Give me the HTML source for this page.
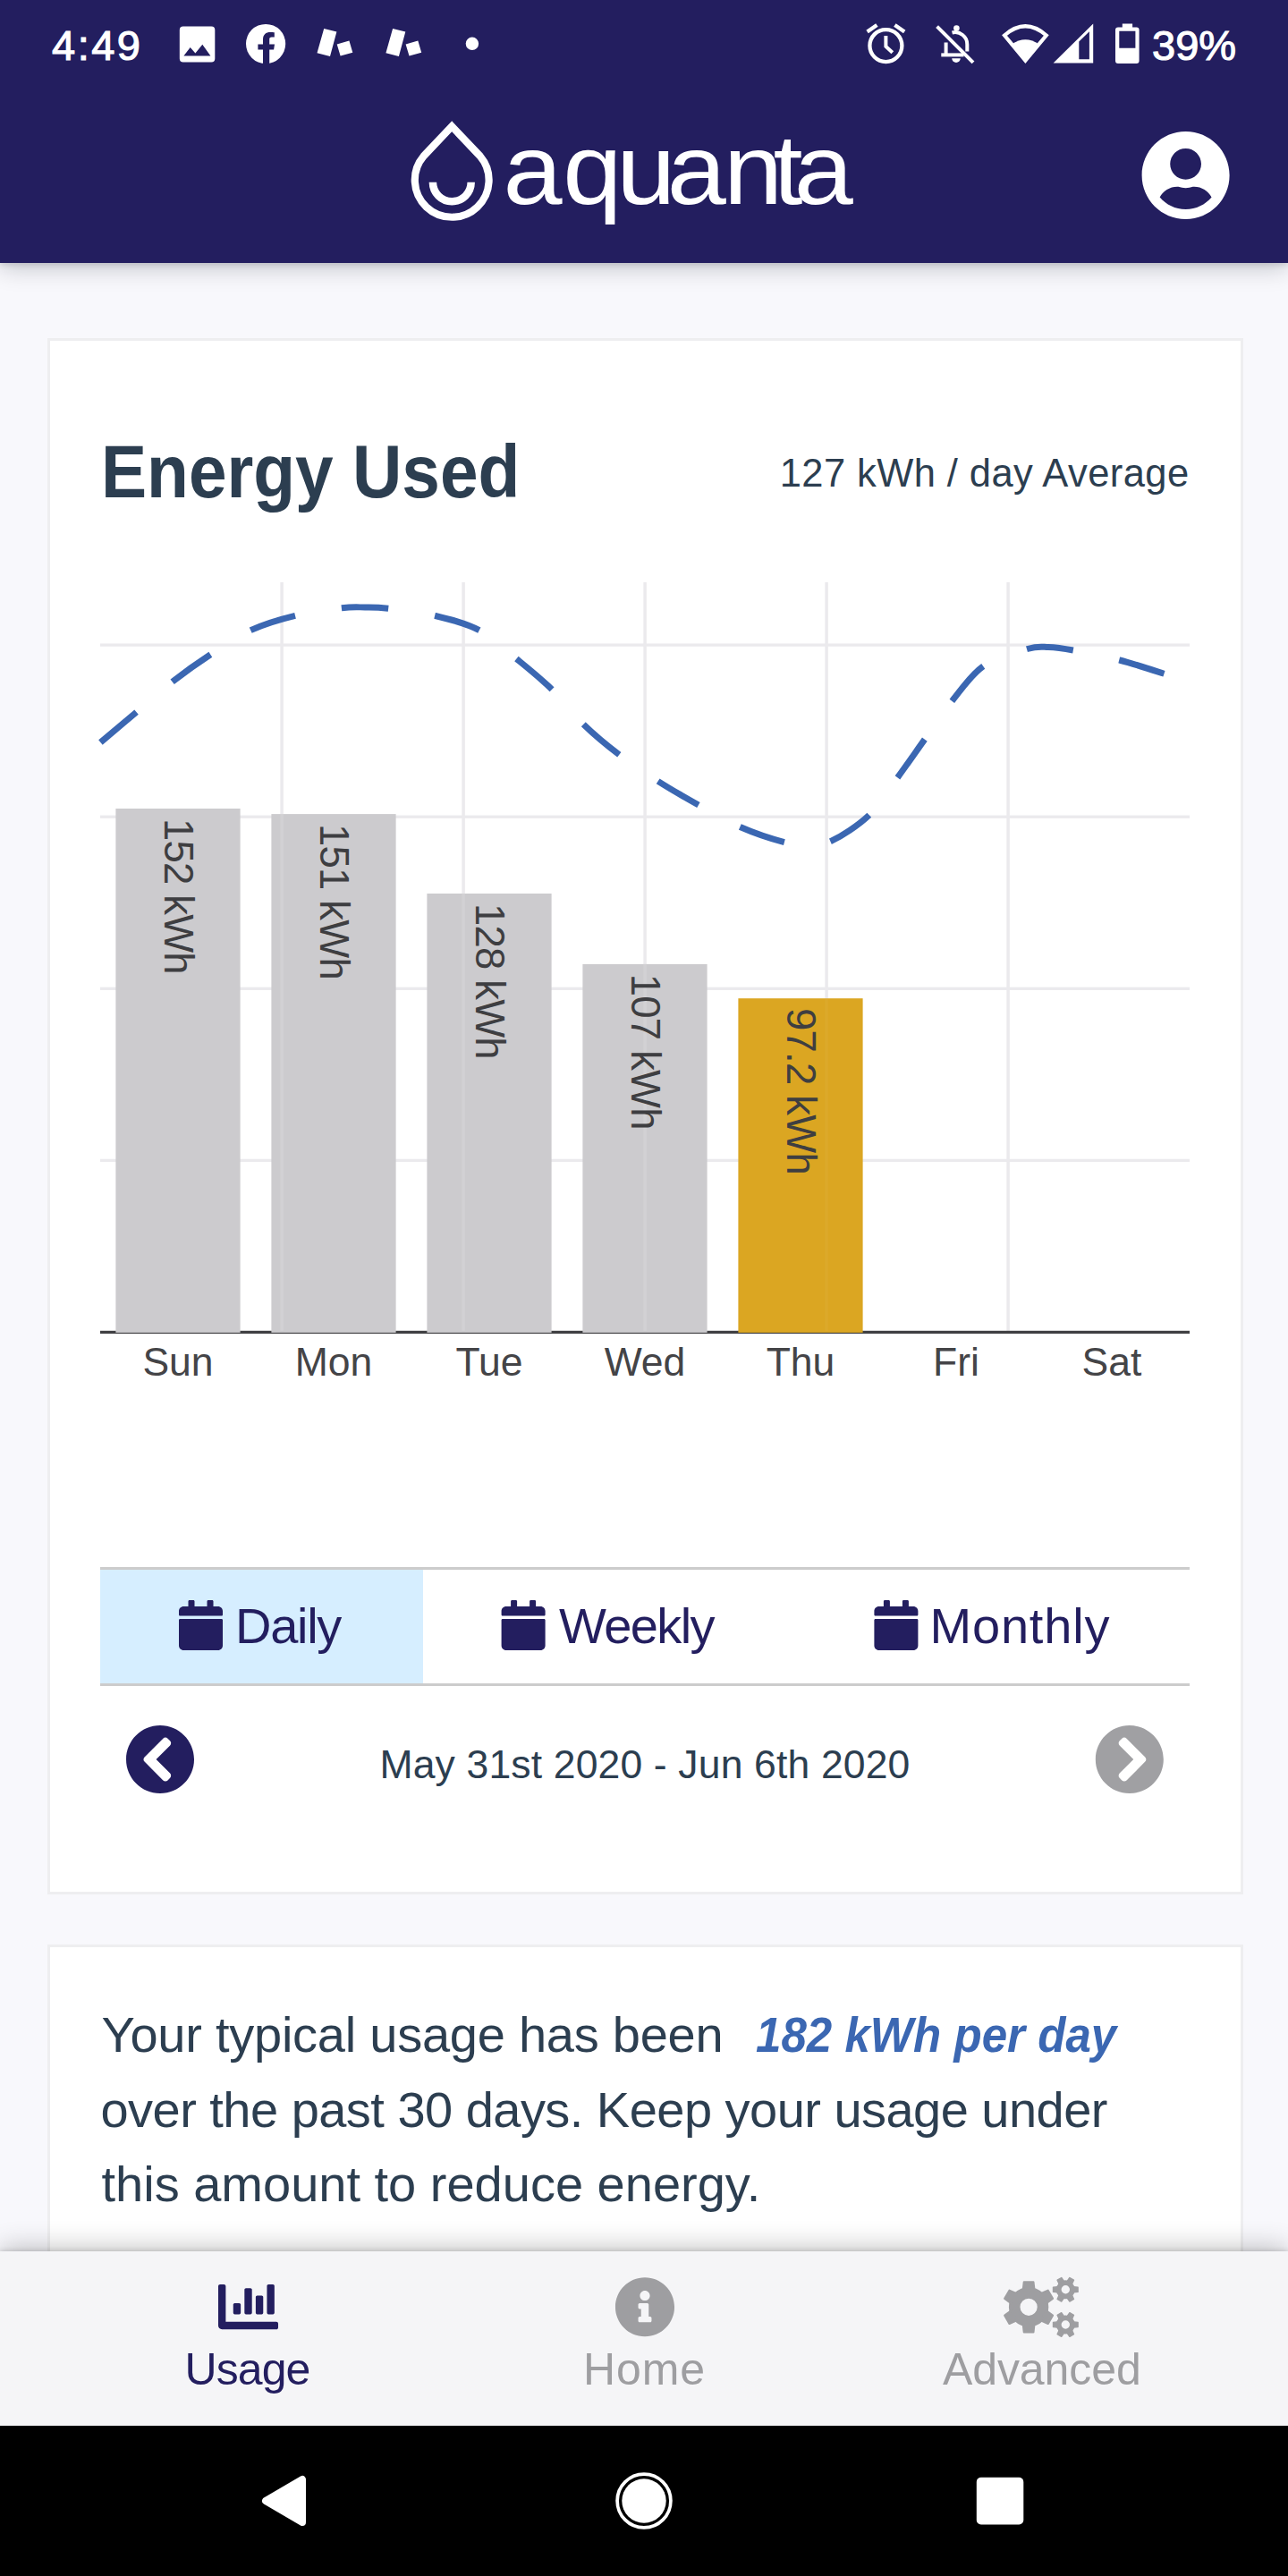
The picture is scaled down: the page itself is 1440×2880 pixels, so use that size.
<!DOCTYPE html><html lang="en"><head><meta charset="utf-8"><title>Aquanta - Energy Used</title><style>
*{margin:0;padding:0;box-sizing:border-box}
html,body{width:1440px;height:2880px;overflow:hidden}
body{position:relative;background:#f8f8fc;font-family:"Liberation Sans",sans-serif;color:#2c3e50}
.abs{position:absolute}
.t{position:absolute;white-space:nowrap;line-height:1}
svg{position:absolute;left:0;top:0;overflow:visible}
#header{position:absolute;left:0;top:0;width:1440px;height:294px;background:#231e5f;box-shadow:0 4px 26px rgba(10,15,30,.24),0 1px 7px rgba(10,15,30,.16)}
.card{position:absolute;left:53px;width:1337px;background:#fff;border:3.5px solid #eeeef0}
#card1{top:378.3px;height:1739.4px}
#card2{top:2174px;height:420px}
#tabbar{position:absolute;left:0;top:2517px;width:1440px;height:195px;background:#f5f5f7;box-shadow:0 -4px 28px rgba(0,0,0,.24),0 -1px 5px rgba(0,0,0,.14)}
#navbar{position:absolute;left:0;top:2712px;width:1440px;height:168px;background:#000}
.st{font-size:47px;color:#fff;-webkit-text-stroke:1.1px #fff;letter-spacing:2.5px}
</style></head><body>
<div id="card1" class="card"></div>
<div id="card2" class="card"></div>
<div id="header"></div>
<div class="t st" style="left:58px;top:27px">4:49</div>
<div class="t st" style="left:1288px;top:27px;letter-spacing:0">39%</div>
<svg width="1440" height="300" viewBox="0 0 1440 300"><path fill="#fff" fill-rule="evenodd" d="M204.8 29.6h31.5a4 4 0 0 1 4 4v31.8a4 4 0 0 1-4 4h-31.5a4 4 0 0 1-4-4V33.6a4 4 0 0 1 4-4zM205.4 62.6L212.7 52.9L218.4 59.6L226.3 49.8L235.4 62.6z"/><circle cx="297.1" cy="49" r="22.1" fill="#fff"/><path fill="#231e5f" d="M294 72V55.6h-5.6v-6.2H294v-5.2c0-5.6 3.4-8.2 8.2-8.2 2.2 0 3.6.2 4.6.3v5.2h-3c-2.2 0-2.6 1.1-2.6 2.7v5.2h5.8l-.9 6.2h-4.9V72z"/><path fill="#fff" d="M362.2 31.9L376.4 35.6L369.0 62.9L354.5 59.2zM376.7 49.6L390.4 45.5L394.3 58.7L380.6 62.6z"/><path fill="#fff" d="M439.1 31.9L453.3 35.6L445.9 62.9L431.4 59.2zM453.6 49.6L467.3 45.5L471.2 58.7L457.5 62.6z"/><circle cx="527.9" cy="48.8" r="7.2" fill="#fff"/><g fill="none" stroke="#fff" stroke-width="4.3"><circle cx="990.4" cy="51.1" r="18"/><path d="M969.6 35.6L980.4 28M1000.4 28L1011.2 35.6"/><path d="M990.4 40.1V51.9L997.8 58.8" stroke-width="4"/></g><g fill="none" stroke="#fff" stroke-width="4"><path d="M1047.6 29.6L1088 69.8"/><path d="M1064.5 36.5a13.5 13.5 0 0 1 16.8 13.2V57.5"/><path d="M1057.6 47.5V61.4"/><path d="M1052.3 61.4H1077.5"/></g><circle cx="1069.4" cy="31.6" r="3.3" fill="#fff"/><path fill="#fff" d="M1064.2 65.2h9.6a4.8 4.8 0 0 1-9.6 0z"/><path fill="none" stroke="#fff" stroke-width="4.2" stroke-linejoin="miter" d="M1123 39.5Q1146.4 19 1169.8 39.5L1146.4 67.6Z"/><path fill="#fff" d="M1131.2 49.6Q1146.4 38.8 1161.6 49.6L1146.4 69Z"/><path fill="#fff" fill-rule="evenodd" d="M1177.6 70.6L1222.2 26.5V70.6zM1206.3 46.6L1217.9 35.2V66.3H1206.3z"/><path fill="#fff" fill-rule="evenodd" d="M1254.8 26.5h11.3v3.9h4.5a3 3 0 0 1 3 3v34.7a3 3 0 0 1-3 3h-20.6a3 3 0 0 1-3-3V33.4a3 3 0 0 1 3-3h4.8zM1251.3 34.8h18.1v18.9h-18.1z"/><path fill="none" stroke="#fff" stroke-width="8.2" stroke-linejoin="miter" stroke-miterlimit="10" d="M505.2 141.2L536.8 174.6A41.4 41.4 0 1 1 473.6 174.6Z"/><path fill="none" stroke="#fff" stroke-width="8.5" d="M483.9 203.8A21.4 21.4 0 0 0 526.7 203.8"/><g transform="translate(1276.6,145.4) scale(0.1976)"><path fill="#fff" d="M248 8C111 8 0 119 0 256s111 248 248 248 248-111 248-248S385 8 248 8zm0 96c48.6 0 88 39.4 88 88s-39.400 88-88 88-88-39.400-88-88 39.400-88 88-88zm0 344c-58.700 0-111.300-26.600-146.500-68.200 18.800-35.400 55.600-59.800 98.500-59.800 2.400 0 4.800.4 7.100 1.100 13 4.200 26.600 6.900 40.900 6.900 14.300 0 28-2.700 40.900-6.900 2.300-.7 4.700-1.100 7.100-1.100 42.900 0 79.700 24.400 98.500 59.800C359.300 421.400 306.700 448 248 448z"/></g></svg>
<svg width="1440" height="300" viewBox="0 0 1440 300"><text id="logo" transform="scale(1.065,1)" x="528.2 590.9 647.3 700.2 759.6 811.7 833.5" y="228.5" font-size="111.5" fill="#fff" font-family="Liberation Sans, sans-serif">aquanta</text></svg>
<svg width="1440" height="2880" viewBox="0 0 1440 2880"><rect x="112" y="719.45" width="1218" height="3.3" fill="#ebeaed"/><rect x="112" y="911.55" width="1218" height="3.3" fill="#ebeaed"/><rect x="112" y="1103.65" width="1218" height="3.3" fill="#ebeaed"/><rect x="112" y="1295.75" width="1218" height="3.3" fill="#ebeaed"/><rect x="313.35" y="651" width="3.5" height="837" fill="#ebeaed"/><rect x="516.35" y="651" width="3.5" height="837" fill="#ebeaed"/><rect x="719.35" y="651" width="3.5" height="837" fill="#ebeaed"/><rect x="922.35" y="651" width="3.5" height="837" fill="#ebeaed"/><rect x="1125.35" y="651" width="3.5" height="837" fill="#ebeaed"/><rect x="112" y="1487.8" width="1218" height="3.3" fill="#404043"/><rect x="129.4" y="904.0" width="139.2" height="585.9" fill="#cccbce"/><rect x="303.4" y="910.1" width="139.2" height="579.8" fill="#cccbce"/><rect x="477.4" y="999.0" width="139.2" height="490.9" fill="#cccbce"/><rect x="651.4" y="1077.9" width="139.2" height="412.0" fill="#cccbce"/><rect x="825.4" y="1116.2" width="139.2" height="373.7" fill="#dba622"/><rect x="313.35" y="910.1" width="3.5" height="577.8" fill="rgba(255,255,255,0.12)"/><rect x="516.35" y="999.0" width="3.5" height="488.9" fill="rgba(255,255,255,0.12)"/><rect x="719.35" y="1077.9" width="3.5" height="410.0" fill="rgba(255,255,255,0.12)"/><rect x="922.35" y="1116.2" width="3.5" height="371.7" fill="rgba(255,255,255,0.04)"/><path fill="none" stroke="#3b67b2" stroke-width="7" stroke-dasharray="52.5 52.5" d="M112.4 830.0C119.0 824.4 138.6 807.9 152.0 796.6C165.4 785.3 179.2 772.8 193.0 762.0C206.8 751.2 220.5 741.5 235.0 732.0C249.5 722.5 264.2 712.0 280.0 704.7C295.8 697.4 313.0 692.4 330.0 688.3C347.0 684.1 369.0 681.3 382.0 679.8C395.0 678.2 399.3 678.9 408.0 679.0C416.7 679.1 421.0 678.8 434.0 680.3C447.0 681.8 469.0 684.2 486.0 688.3C503.0 692.4 520.7 696.6 536.0 704.7C551.3 712.8 564.5 726.0 578.0 737.0C591.5 748.0 604.6 758.5 617.0 770.7C629.4 782.9 640.0 797.8 652.5 810.0C665.0 822.2 678.4 833.2 692.3 843.8C706.2 854.4 721.2 864.2 736.0 873.6C750.8 883.0 765.7 891.5 781.0 900.0C796.3 908.5 812.0 917.8 828.0 924.8C844.0 931.8 864.5 938.4 877.0 941.7C889.5 945.0 894.2 944.8 903.0 944.5C911.8 944.2 918.1 945.8 929.6 940.2C941.1 934.6 959.6 922.9 972.0 911.0C984.4 899.1 993.7 882.7 1004.0 868.6C1014.3 854.5 1023.8 840.7 1034.0 826.4C1044.2 812.1 1054.0 796.7 1065.0 783.0C1076.0 769.3 1086.0 754.0 1100.0 744.4C1114.0 734.8 1136.7 729.0 1148.7 725.5C1160.7 722.0 1163.5 723.2 1172.0 723.5C1180.5 723.8 1186.7 724.6 1200.0 727.0C1213.3 729.4 1234.6 733.6 1251.6 738.0C1268.6 742.4 1288.9 749.2 1302.0 753.4C1315.1 757.6 1325.3 761.4 1330.0 763.0"/><text transform="translate(184.4,914.9) rotate(90)" font-size="45.5" letter-spacing="-.8" fill="#3e3e41" font-family="Liberation Sans, sans-serif">152 kWh</text><text transform="translate(358.4,921.0) rotate(90)" font-size="45.5" letter-spacing="-.8" fill="#3e3e41" font-family="Liberation Sans, sans-serif">151 kWh</text><text transform="translate(532.4,1009.9) rotate(90)" font-size="45.5" letter-spacing="-.8" fill="#3e3e41" font-family="Liberation Sans, sans-serif">128 kWh</text><text transform="translate(706.4,1088.8) rotate(90)" font-size="45.5" letter-spacing="-.8" fill="#3e3e41" font-family="Liberation Sans, sans-serif">107 kWh</text><text transform="translate(880.4,1127.1) rotate(90)" font-size="45.5" letter-spacing="-.8" fill="#3e3e41" font-family="Liberation Sans, sans-serif">97.2 kWh</text><text x="199" y="1538.2" text-anchor="middle" font-size="44.5" fill="#444447" font-family="Liberation Sans, sans-serif">Sun</text><text x="373" y="1538.2" text-anchor="middle" font-size="44.5" fill="#444447" font-family="Liberation Sans, sans-serif">Mon</text><text x="547" y="1538.2" text-anchor="middle" font-size="44.5" fill="#444447" font-family="Liberation Sans, sans-serif">Tue</text><text x="721" y="1538.2" text-anchor="middle" font-size="44.5" fill="#444447" font-family="Liberation Sans, sans-serif">Wed</text><text x="895" y="1538.2" text-anchor="middle" font-size="44.5" fill="#444447" font-family="Liberation Sans, sans-serif">Thu</text><text x="1069" y="1538.2" text-anchor="middle" font-size="44.5" fill="#444447" font-family="Liberation Sans, sans-serif">Fri</text><text x="1243" y="1538.2" text-anchor="middle" font-size="44.5" fill="#444447" font-family="Liberation Sans, sans-serif">Sat</text></svg>
<div class="t" id="h_energy" style="left:112.5px;top:485.1px;font-size:84px;font-weight:bold;transform-origin:0 0;transform:scaleX(.912)">Energy Used</div>
<div class="t" id="h_avg" style="right:110.5px;top:508.3px;font-size:43.5px;letter-spacing:.42px">127 kWh / day Average</div>
<div class="abs" style="left:112px;top:1751.7px;width:1218px;height:133px;border-top:3.5px solid #ccc;border-bottom:3.5px solid #ccc"></div>
<div class="abs" style="left:112px;top:1755.2px;width:360.7px;height:126.4px;background:#d6eeff"></div>
<svg width="1440" height="2880" viewBox="0 0 1440 2880"><g transform="translate(200,1789) scale(0.1094)"><path fill="#231e5f" d="M12 192h424c6.600 0 12 5.400 12 12v260c0 26.500-21.500 48-48 48H48c-26.500 0-48-21.500-48-48V204c0-6.600 5.400-12 12-12zm436-44v-36c0-26.500-21.500-48-48-48h-48V12c0-6.600-5.400-12-12-12h-40c-6.600 0-12 5.400-12 12v52H160V12c0-6.600-5.400-12-12-12h-40c-6.600 0-12 5.400-12 12v52H48C21.500 64 0 85.500 0 112v36c0 6.600 5.400 12 12 12h424c6.600 0 12-5.400 12-12z"/></g><g transform="translate(560.6,1789) scale(0.1094)"><path fill="#231e5f" d="M12 192h424c6.600 0 12 5.400 12 12v260c0 26.500-21.500 48-48 48H48c-26.500 0-48-21.500-48-48V204c0-6.600 5.400-12 12-12zm436-44v-36c0-26.500-21.500-48-48-48h-48V12c0-6.600-5.400-12-12-12h-40c-6.600 0-12 5.400-12 12v52H160V12c0-6.600-5.400-12-12-12h-40c-6.600 0-12 5.400-12 12v52H48C21.500 64 0 85.500 0 112v36c0 6.600 5.400 12 12 12h424c6.600 0 12-5.400 12-12z"/></g><g transform="translate(977.4,1789) scale(0.1094)"><path fill="#231e5f" d="M12 192h424c6.600 0 12 5.400 12 12v260c0 26.500-21.500 48-48 48H48c-26.500 0-48-21.500-48-48V204c0-6.600 5.400-12 12-12zm436-44v-36c0-26.500-21.500-48-48-48h-48V12c0-6.600-5.400-12-12-12h-40c-6.600 0-12 5.400-12 12v52H160V12c0-6.600-5.400-12-12-12h-40c-6.600 0-12 5.400-12 12v52H48C21.500 64 0 85.500 0 112v36c0 6.600 5.400 12 12 12h424c6.600 0 12-5.400 12-12z"/></g><g transform="translate(139.8,1927.8) scale(0.1532)"><path fill="#231e5f" d="M256 504C119 504 8 393 8 256S119 8 256 8s248 111 248 248-111 248-248 248zM142.100 273l135.500 135.500c9.400 9.400 24.600 9.400 33.900 0l17-17c9.400-9.400 9.400-24.600 0-33.900L226.900 256l101.600-101.600c9.400-9.400 9.400-24.600 0-33.900l-17-17c-9.400-9.400-24.600-9.400-33.900 0L142.100 239c-9.400 9.400-9.400 24.600 0 34z"/></g><g transform="translate(1223.6,1927.8) scale(0.1532)"><path fill="#a0a0a3" d="M256 8c137 0 248 111 248 248S393 504 256 504 8 393 8 256 119 8 256 8zm113.900 231L234.400 103.500c-9.400-9.400-24.600-9.400-33.900 0l-17 17c-9.400 9.400-9.400 24.600 0 33.900L285.100 256 183.500 357.600c-9.400 9.400-9.400 24.600 0 33.900l17 17c9.400 9.400 24.600 9.400 33.900 0L369.900 273c9.400-9.400 9.400-24.600 0-34z"/></g></svg>
<div class="t" id="t_daily" style="left:263px;top:1789.9px;font-size:56px;letter-spacing:-1.3px;color:#231e5f">Daily</div>
<div class="t" id="t_weekly" style="left:625px;top:1789.9px;font-size:56px;letter-spacing:-1.6px;color:#231e5f">Weekly</div>
<div class="t" id="t_monthly" style="left:1039.5px;top:1789.9px;font-size:56px;letter-spacing:.8px;color:#231e5f">Monthly</div>
<div class="t" id="t_date" style="left:0;width:1442px;text-align:center;top:1951.4px;font-size:44.5px;letter-spacing:.15px">May 31st 2020 - Jun 6th 2020</div>
<div class="t" id="p1" style="left:113.5px;top:2247.1px;font-size:56px;letter-spacing:-.25px">Your typical usage has been</div>
<div class="t" id="p1b" style="left:845px;top:2247.6px;font-size:55px;transform-origin:0 0;transform:scaleX(.929);font-weight:bold;font-style:italic;color:#3b67b2">182 kWh per day</div>
<div class="t" id="p2" style="left:112.5px;top:2330.6px;font-size:56px;letter-spacing:-.53px">over the past 30 days. Keep your usage under</div>
<div class="t" id="p3" style="left:113.5px;top:2414.1px;font-size:56px">this amount to reduce energy.</div>
<div id="tabbar"></div><div id="navbar"></div>
<svg width="1440" height="2880" viewBox="0 0 1440 2880"><path fill="#fff" stroke="#fff" stroke-width="8" stroke-linejoin="round" d="M297 2796L338 2772V2820Z"/><circle cx="720" cy="2796" r="24.7" fill="#fff"/><circle cx="720" cy="2796" r="29.9" fill="none" stroke="#fff" stroke-width="3.7"/><rect x="1091.8" y="2769.7" width="52.5" height="52.8" rx="5" fill="#fff"/><g transform="translate(244,2545.6) scale(0.1309)"><path fill="#231e5f" d="M332.800 320h38.400c6.400 0 12.800-6.400 12.800-12.800V172.800c0-6.400-6.400-12.800-12.800-12.800h-38.400c-6.400 0-12.800 6.400-12.800 12.800v134.400c0 6.400 6.400 12.800 12.800 12.800zm96 0h38.400c6.400 0 12.800-6.400 12.800-12.800V76.800c0-6.400-6.400-12.800-12.800-12.800h-38.400c-6.400 0-12.800 6.400-12.800 12.800v230.400c0 6.400 6.400 12.800 12.800 12.800zm-288 0h38.400c6.400 0 12.800-6.400 12.800-12.800v-70.400c0-6.400-6.400-12.800-12.800-12.800h-38.400c-6.400 0-12.800 6.400-12.800 12.800v70.400c0 6.400 6.400 12.800 12.800 12.800zm96 0h38.400c6.400 0 12.800-6.400 12.800-12.800V108.800c0-6.400-6.400-12.800-12.800-12.800h-38.400c-6.400 0-12.800 6.400-12.800 12.800v198.400c0 6.400 6.400 12.800 12.800 12.800zM496 384H64V80c0-8.840-7.160-16-16-16H16C7.160 64 0 71.160 0 80v336c0 17.670 14.330 32 32 32h464c8.840 0 16-7.160 16-16v-32c0-8.840-7.160-16-16-16z"/></g><g transform="translate(686.9,2545.2) scale(0.1332)"><path fill="#9e9ea1" d="M256 8C119.043 8 8 119.083 8 256c0 136.997 111.043 248 248 248s248-111.003 248-248C504 119.083 392.957 8 256 8zm0 110c23.196 0 42 18.804 42 42s-18.804 42-42 42-42-18.804-42-42 18.804-42 42-42zm56 254c0 6.627-5.373 12-12 12h-88c-6.627 0-12-5.373-12-12v-24c0-6.627 5.373-12 12-12h12v-64h-12c-6.627 0-12-5.373-12-12v-24c0-6.627 5.373-12 12-12h64c6.627 0 12 5.373 12 12v100h12c6.627 0 12 5.373 12 12v24z"/></g><path fill="#9e9ea1" fill-rule="evenodd" d="M1172.3 2579.3A22.2 22.2 0 1 1 1127.9 2579.3A22.2 22.2 0 1 1 1172.3 2579.3ZM1159.7 2579.3A9.6 9.6 0 1 0 1140.5 2579.3A9.6 9.6 0 1 0 1159.7 2579.3Z"/><path fill="#9e9ea1" stroke="#9e9ea1" stroke-width="2.2" stroke-linejoin="round" d="M1156.4 2598.4L1155.4 2607.3L1144.8 2607.3L1143.8 2598.4ZM1136.7 2594.3L1128.5 2597.9L1123.2 2588.7L1130.4 2583.4ZM1130.4 2575.2L1123.2 2569.9L1128.5 2560.7L1136.7 2564.3ZM1143.8 2560.2L1144.8 2551.3L1155.4 2551.3L1156.4 2560.2ZM1163.5 2564.3L1171.7 2560.7L1177.0 2569.9L1169.8 2575.2ZM1169.8 2583.4L1177.0 2588.7L1171.7 2597.9L1163.5 2594.3Z"/><path fill="#9e9ea1" fill-rule="evenodd" d="M1201.8 2559.8A10.5 10.5 0 1 1 1180.8 2559.8A10.5 10.5 0 1 1 1201.8 2559.8ZM1196.0 2559.8A4.7 4.7 0 1 0 1186.6 2559.8A4.7 4.7 0 1 0 1196.0 2559.8Z"/><path fill="#9e9ea1" stroke="#9e9ea1" stroke-width="1.4" stroke-linejoin="round" d="M1200.3 2556.7L1205.1 2557.2L1205.1 2562.4L1200.3 2562.9ZM1198.5 2566.1L1200.5 2570.5L1195.9 2573.1L1193.1 2569.2ZM1189.5 2569.2L1186.7 2573.1L1182.1 2570.5L1184.1 2566.1ZM1182.3 2562.9L1177.5 2562.4L1177.5 2557.2L1182.3 2556.7ZM1184.1 2553.5L1182.1 2549.1L1186.7 2546.5L1189.5 2550.4ZM1193.1 2550.4L1195.9 2546.5L1200.5 2549.1L1198.5 2553.5Z"/><path fill="#9e9ea1" fill-rule="evenodd" d="M1201.8 2599.0A10.5 10.5 0 1 1 1180.8 2599.0A10.5 10.5 0 1 1 1201.8 2599.0ZM1196.0 2599.0A4.7 4.7 0 1 0 1186.6 2599.0A4.7 4.7 0 1 0 1196.0 2599.0Z"/><path fill="#9e9ea1" stroke="#9e9ea1" stroke-width="1.4" stroke-linejoin="round" d="M1200.3 2595.9L1205.1 2596.4L1205.1 2601.6L1200.3 2602.1ZM1198.5 2605.3L1200.5 2609.7L1195.9 2612.3L1193.1 2608.4ZM1189.5 2608.4L1186.7 2612.3L1182.1 2609.7L1184.1 2605.3ZM1182.3 2602.1L1177.5 2601.6L1177.5 2596.4L1182.3 2595.9ZM1184.1 2592.7L1182.1 2588.3L1186.7 2585.7L1189.5 2589.6ZM1193.1 2589.6L1195.9 2585.7L1200.5 2588.3L1198.5 2592.7Z"/></svg>
<div class="t" style="left:206.5px;top:2624.3px;font-size:50px;letter-spacing:-.9px;color:#231e5f">Usage</div>
<div class="t" style="left:652px;top:2624.3px;font-size:50px;letter-spacing:.9px;color:#9e9ea1">Home</div>
<div class="t" style="left:1054px;top:2624.3px;font-size:50px;letter-spacing:-.1px;color:#9e9ea1">Advanced</div>
</body></html>
